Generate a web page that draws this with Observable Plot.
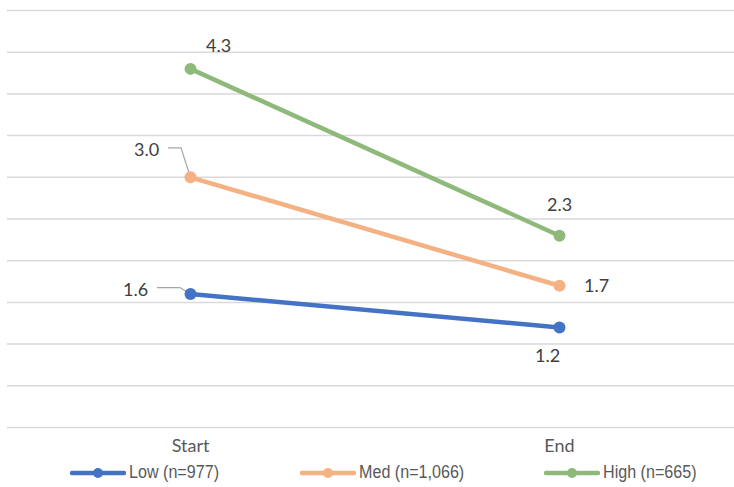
<!DOCTYPE html>
<html>
<head>
<meta charset="utf-8">
<script src="https://cdn.jsdelivr.net/npm/d3@7"></script>
<script src="https://cdn.jsdelivr.net/npm/@observablehq/plot@0.6"></script>
<style>
  html, body { margin: 0; padding: 0; background: #fff; overflow: hidden; }
  #chart { width: 734px; }
  #legend { position: relative; width: 734px; height: 29px; }
  .item { position: absolute; top: 0; height: 29px; display: flex; align-items: center; }
  .item span { display: inline-block; font-family: "Liberation Sans", Arial, sans-serif; font-size: 18px; color: #595959; margin-left: 3px; white-space: nowrap; transform: scaleX(0.895); transform-origin: left center; }
</style>
</head>
<body>
<div id="chart"></div>
<div id="legend"></div>
<script>
const categories = ["Start", "End"];
const series = ["Low (n=977)", "Med (n=1,066)", "High (n=665)"];
const lowValues = [1.6, 1.2];
const medValues = [3.0, 1.7];
const highValues = [4.3, 2.3];
const colors = ["#4472C4", "#F4B183", "#8FB97A"];
const yTicks = [0, 0.5, 1, 1.5, 2, 2.5, 3, 3.5, 4, 4.5, 5];

const valuesBySeries = [lowValues, medValues, highValues];
const data = series.flatMap((s, i) =>
  categories.map((c, j) => ({ series: s, cat: c, value: valuesBySeries[i][j] }))
);

function label(si, cat, dx, dy) {
  return Plot.text(
    data.filter(d => d.series === series[si] && d.cat === cat),
    { x: "cat", y: "value", text: d => d.value.toFixed(1), dx, dy,
      fill: "#404040", fontSize: 18 }
  );
}

function leader(si, cat, pts) {
  return (index, scales) => {
    const d = data.find(r => r.series === series[si] && r.cat === cat);
    const px = scales.x(d.cat), py = scales.y(d.value);
    const g = document.createElementNS("http://www.w3.org/2000/svg", "polyline");
    g.setAttribute("points", pts.map(([a, b]) => `${px + a},${py + b}`).join(" "));
    g.setAttribute("fill", "none");
    g.setAttribute("stroke", "#A6A6A6");
    g.setAttribute("stroke-width", "1.2");
    return g;
  };
}

const chart = Plot.plot({
  width: 734,
  height: 458,
  marginLeft: 7,
  marginRight: 0,
  marginTop: 10,
  marginBottom: 31,
  style: { fontFamily: "Lato, sans-serif", background: "#fff" },
  x: { type: "point", domain: categories, range: [190, 559], padding: 0, label: null },
  y: { domain: [0, 5], axis: null, label: null },
  color: { domain: series, range: colors },
  marks: [
    Plot.ruleY(yTicks, { stroke: "#D9D9D9", strokeWidth: 1.5 }),
    Plot.axisX({ tickSize: 0, tickPadding: 12, fontSize: 18, fill: "#595959" }),
    leader(1, "Start", [[-22, -29], [-9, -29], [-1, -4]]),
    leader(0, "Start", [[-33, -6], [-10, -6], [-2, -1]]),
    Plot.line(data, { x: "cat", y: "value", z: "series", stroke: "series", strokeWidth: 4.5 }),
    Plot.dot(data, { x: "cat", y: "value", fill: "series", r: 6 }),
    label(2, "Start", 28, -23),
    label(1, "Start", -44, -27),
    label(0, "Start", -55, -4),
    label(2, "End", 0, -30),
    label(1, "End", 37, 1),
    label(0, "End", -12, 29)
  ]
});
document.getElementById("chart").appendChild(chart);

const legend = document.getElementById("legend");
const lefts = [70, 300, 544];
series.forEach((s, i) => {
  const item = document.createElement("div");
  item.className = "item";
  item.style.left = lefts[i] + "px";
  item.innerHTML = `<svg width="56" height="14"><line x1="2" y1="7" x2="54" y2="7" stroke="${colors[i]}" stroke-width="4.5" stroke-linecap="round"/><circle cx="28" cy="7" r="5" fill="${colors[i]}"/></svg><span>${s}</span>`;
  legend.appendChild(item);
});
</script>
</body>
</html>
